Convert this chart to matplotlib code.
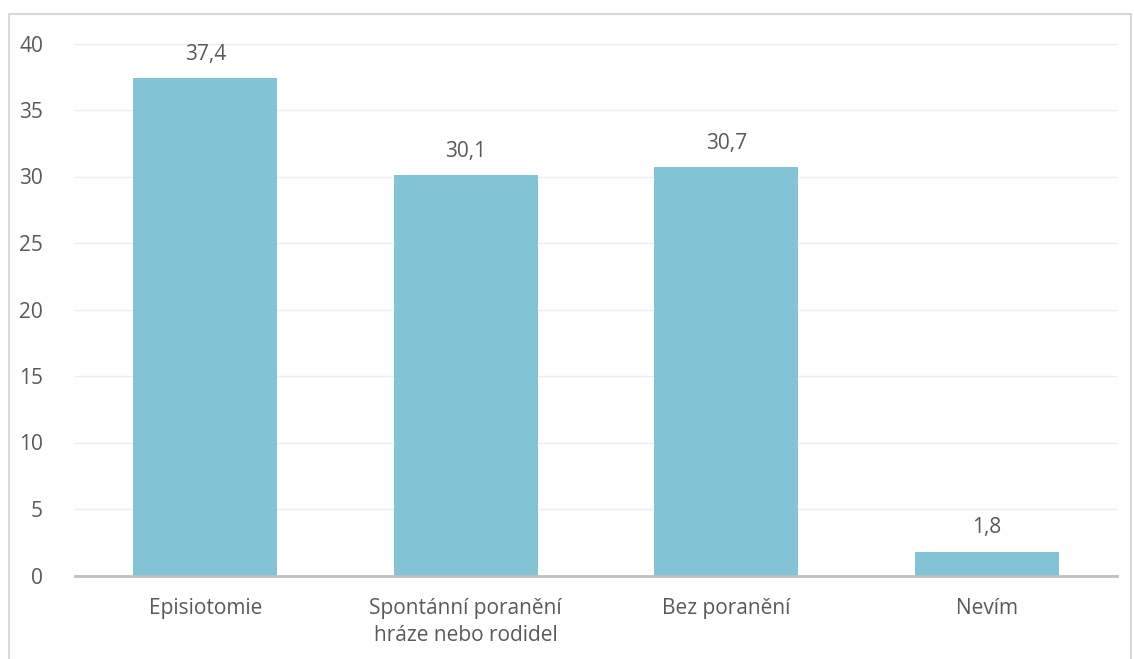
import matplotlib
matplotlib.use("Agg")
import matplotlib.pyplot as plt
from matplotlib.patches import Rectangle

categories = ["Episiotomie", "Spontánní poranění\nhráze nebo rodidel", "Bez poranění", "Nevím"]
values = [37.4, 30.1, 30.7, 1.8]
yticks = [0, 5, 10, 15, 20, 25, 30, 35, 40]

plt.rcParams['font.family'] = ['Open Sans', 'DejaVu Sans']
text_col = '#595959'
fsize = 15

fig = plt.figure(figsize=(11.34, 6.59), dpi=100)
ax = fig.add_axes([75/1134, 1 - 575.5/659, 1042/1134, 532/659])

x = range(len(categories))
ax.bar(x, values, width=0.553, color='#82C3D5', zorder=3)
for xi, v in zip(x, values):
    ax.text(xi, v + 1.0, f"{v:.1f}".replace('.', ','), ha='center', va='bottom',
            fontsize=fsize, color=text_col)

ax.set_xlim(-0.5, len(categories) - 0.5)
ax.set_ylim(0, 40)
ax.set_yticks(yticks)
ax.set_yticklabels([str(t) for t in yticks])
ax.set_xticks(list(x))
ax.set_xticklabels(categories, linespacing=1.4)
ax.tick_params(axis='both', length=0, labelsize=fsize, labelcolor=text_col)
ax.tick_params(axis='x', pad=16)
ax.tick_params(axis='y', pad=23)

ax.grid(axis='y', color='#EDEDED', linewidth=1, zorder=0)
for s in ['top', 'right', 'left']:
    ax.spines[s].set_visible(False)
ax.spines['bottom'].set_color('#BFBFBF')
ax.spines['bottom'].set_linewidth(2)
ax.spines['bottom'].set_zorder(4)

fig.patches.append(Rectangle((9/1134, -0.05), 1122/1134, 1.05 - 14/659,
                             transform=fig.transFigure, fill=False,
                             edgecolor='#D9D9D9', linewidth=1.5))

fig.savefig("out.png", dpi=100)
